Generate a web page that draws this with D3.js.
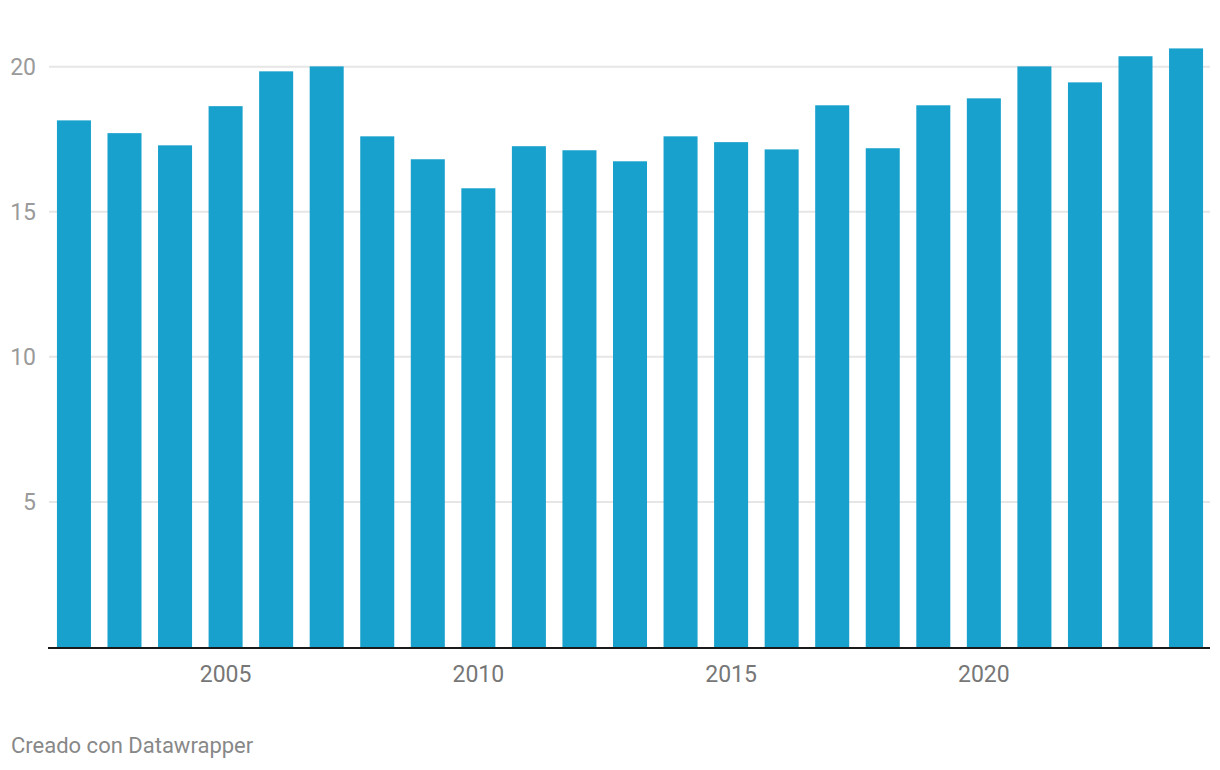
<!DOCTYPE html>
<html><head><meta charset="utf-8">
<script src="https://cdn.jsdelivr.net/npm/d3@7"></script>
<style>
html,body{margin:0;padding:0;background:#fff;}
svg{display:block;font-family:Roboto,"Noto Sans",sans-serif;}
</style></head>
<body>
<svg id="chart" width="1220" height="770"></svg>
<script>
const years = [2002,2003,2004,2005,2006,2007,2008,2009,2010,2011,2012,2013,2014,2015,2016,2017,2018,2019,2020,2021,2022,2023,2024];
const values = [18.15,17.71,17.29,18.64,19.84,20.01,17.60,16.81,15.81,17.26,17.12,16.74,17.60,17.40,17.15,18.67,17.19,18.67,18.91,20.01,19.46,20.36,20.63];
const yTicks = [5,10,15,20];
const xTickYears = [2005,2010,2015,2020];
const footer = "Creado con Datawrapper";

const svg = d3.select("#chart");
const plotLeft = 48, plotRight = 1210, plotBottom = 647;

const x = d3.scaleBand().domain(years).range([plotLeft + 1, plotRight + 1]).paddingInner(0.327).paddingOuter(0.157);
const y = d3.scaleLinear().domain([0, 20]).range([plotBottom, 66.7]);

// gridlines
svg.append("g").selectAll("line").data(yTicks).join("line")
  .attr("x1", plotLeft + 1).attr("x2", plotRight)
  .attr("y1", d => y(d)).attr("y2", d => y(d))
  .attr("stroke", "#e6e6e6").attr("stroke-width", 2);

// y labels
svg.append("g").selectAll("text").data(yTicks).join("text")
  .attr("x", 36).attr("y", d => y(d)).attr("dy", "0.35em")
  .attr("text-anchor", "end").attr("fill", "#9a9a9a")
  .attr("font-size", 23).text(d => d);

// bars
svg.append("g").selectAll("rect").data(values).join("rect")
  .attr("x", (d, i) => x(years[i])).attr("width", x.bandwidth())
  .attr("y", d => y(d)).attr("height", d => plotBottom - y(d))
  .attr("fill", "#18a1cd");

// baseline
svg.append("line").attr("x1", plotLeft).attr("x2", plotRight)
  .attr("y1", plotBottom + 1).attr("y2", plotBottom + 1)
  .attr("stroke", "#1a1a1a").attr("stroke-width", 2);

// x labels
svg.append("g").selectAll("text").data(xTickYears).join("text")
  .attr("x", d => x(d) + x.bandwidth() / 2).attr("y", 682)
  .attr("text-anchor", "middle").attr("fill", "#777")
  .attr("font-size", 23).text(d => d);

// footer
svg.append("text").attr("x", 11).attr("y", 753)
  .attr("fill", "#888").attr("font-size", 22).text(footer);
</script>
</body></html>
